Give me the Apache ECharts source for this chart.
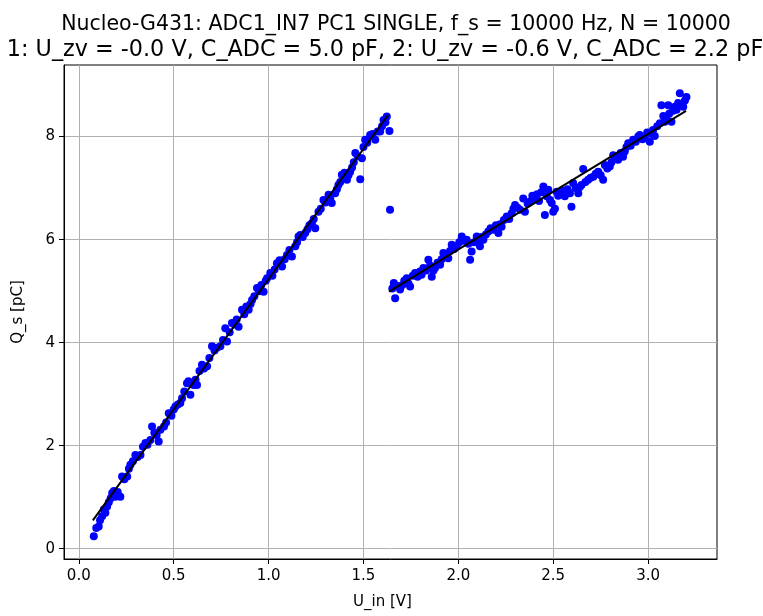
<!DOCTYPE html>
<html>
<head>
<meta charset="utf-8">
<script src="https://cdn.jsdelivr.net/npm/echarts@6/dist/echarts.min.js"></script>
<style>
  html, body { margin: 0; padding: 0; background: #fff; }
  #chart { width: 763px; height: 616px; }
</style>
</head>
<body>
<div id="chart"></div>
<script>
// measured points, range 1 (C_ADC = 5.0 pF)
const uIn1 = [
  0.079, 0.092, 0.105, 0.112, 0.123, 0.132, 0.140, 0.149, 0.158, 0.168,
  0.176, 0.185, 0.193, 0.205, 0.219, 0.228, 0.240, 0.255, 0.264, 0.272,
  0.285, 0.298, 0.310, 0.325, 0.338, 0.351, 0.362, 0.377, 0.386, 0.398,
  0.410, 0.421, 0.430, 0.449, 0.460, 0.474, 0.488, 0.500, 0.509, 0.522,
  0.535, 0.544, 0.556, 0.570, 0.578, 0.588, 0.605, 0.615, 0.623, 0.636,
  0.649, 0.660, 0.676, 0.688, 0.702, 0.715, 0.728, 0.746, 0.760, 0.772,
  0.781, 0.795, 0.807, 0.820, 0.832, 0.842, 0.860, 0.872, 0.883, 0.895,
  0.905, 0.913, 0.925, 0.939, 0.950, 0.962, 0.974, 0.985, 0.992, 1.009,
  1.020, 1.032, 1.044, 1.058, 1.071, 1.085, 1.097, 1.110, 1.123, 1.141,
  1.150, 1.158, 1.167, 1.180, 1.193, 1.205, 1.215, 1.228, 1.238, 1.246,
  1.263, 1.275, 1.289, 1.300, 1.316, 1.325, 1.333, 1.351, 1.360, 1.368,
  1.378, 1.386, 1.400, 1.413, 1.421, 1.430, 1.440, 1.449, 1.457, 1.470,
  1.483, 1.492, 1.500, 1.509, 1.520, 1.535, 1.548, 1.562, 1.575, 1.588,
  1.598, 1.606, 1.616, 1.623, 1.637
]
const qS1 = [
  0.24, 0.40, 0.43, 0.55, 0.63, 0.76, 0.70, 0.82, 0.90, 0.98,
  1.08, 1.12, 1.01, 1.10, 1.01, 1.40, 1.35, 1.40, 1.55, 1.63,
  1.70, 1.82, 1.78, 1.82, 1.98, 2.05, 2.02, 2.11, 2.37, 2.25,
  2.20, 2.08, 2.31, 2.37, 2.45, 2.63, 2.58, 2.70, 2.76, 2.80,
  2.83, 2.92, 3.05, 3.21, 3.25, 2.99, 3.18, 3.28, 3.18, 3.45,
  3.57, 3.50, 3.54, 3.70, 3.93, 3.85, 3.90, 3.93, 4.05, 4.28,
  4.02, 4.20, 4.38, 4.35, 4.45, 4.31, 4.64, 4.55, 4.70, 4.64,
  4.75, 4.83, 4.90, 5.06, 5.00, 5.12, 4.99, 5.20, 5.25, 5.35,
  5.30, 5.42, 5.54, 5.60, 5.48, 5.62, 5.70, 5.80, 5.67, 5.87,
  5.95, 6.06, 6.09, 6.05, 6.13, 6.20, 6.28, 6.32, 6.40, 6.22,
  6.54, 6.60, 6.77, 6.72, 6.87, 6.80, 6.71, 6.90, 6.98, 7.06,
  7.12, 7.26, 7.30, 7.16, 7.25, 7.32, 7.40, 7.50, 7.68, 7.62,
  7.17, 7.58, 7.80, 7.94, 7.88, 8.03, 8.05, 7.94, 8.10, 8.10,
  8.20, 8.32, 8.28, 8.39, 8.11
]

// measured points, range 2 (C_ADC = 2.2 pF)
const uIn2 = [
  1.640, 1.652, 1.660, 1.667, 1.680, 1.693, 1.705, 1.715, 1.728, 1.737,
  1.746, 1.760, 1.772, 1.785, 1.798, 1.806, 1.816, 1.830, 1.842, 1.851,
  1.860, 1.869, 1.877, 1.890, 1.904, 1.912, 1.921, 1.935, 1.947, 1.956,
  1.965, 1.978, 1.991, 2.005, 2.018, 2.030, 2.044, 2.053, 2.062, 2.070,
  2.083, 2.097, 2.105, 2.114, 2.123, 2.132, 2.145, 2.158, 2.170, 2.185,
  2.198, 2.211, 2.220, 2.228, 2.240, 2.255, 2.268, 2.281, 2.290, 2.299,
  2.312, 2.325, 2.342, 2.351, 2.365, 2.378, 2.390, 2.404, 2.415, 2.425,
  2.437, 2.448, 2.456, 2.466, 2.474, 2.483, 2.492, 2.500, 2.509, 2.518,
  2.526, 2.535, 2.548, 2.561, 2.575, 2.588, 2.596, 2.605, 2.618, 2.632,
  2.640, 2.649, 2.658, 2.670, 2.684, 2.697, 2.711, 2.724, 2.737, 2.750,
  2.763, 2.772, 2.785, 2.798, 2.807, 2.816, 2.830, 2.842, 2.855, 2.868,
  2.877, 2.886, 2.895, 2.908, 2.921, 2.935, 2.948, 2.956, 2.970, 2.983,
  2.995, 3.009, 3.018, 3.026, 3.035, 3.048, 3.062, 3.070, 3.080, 3.088,
  3.097, 3.106, 3.112, 3.123, 3.132, 3.141, 3.150, 3.158, 3.167, 3.176,
  3.185, 3.194, 3.202
]
const qS2 = [
  6.58, 5.05, 5.16, 4.86, 5.10, 5.03, 5.12, 5.20, 5.25, 5.15,
  5.09, 5.30, 5.35, 5.28, 5.38, 5.32, 5.45, 5.40, 5.61, 5.50,
  5.28, 5.40, 5.45, 5.55, 5.51, 5.62, 5.74, 5.70, 5.64, 5.78,
  5.90, 5.82, 5.87, 5.95, 6.06, 5.98, 6.00, 5.92, 5.61, 5.77,
  5.95, 6.06, 6.00, 5.87, 6.05, 6.00, 6.10, 6.16, 6.22, 6.19,
  6.28, 6.13, 6.30, 6.25, 6.38, 6.45, 6.40, 6.51, 6.60, 6.67,
  6.62, 6.58, 6.80, 6.54, 6.70, 6.74, 6.85, 6.80, 6.88, 6.75,
  6.92, 7.03, 6.48, 6.84, 6.97, 6.77, 6.71, 6.54, 6.60, 6.93,
  6.85, 6.93, 6.95, 6.84, 6.98, 6.90, 6.64, 7.10, 7.00, 6.90,
  7.02, 7.06, 7.37, 7.12, 7.16, 7.20, 7.22, 7.28, 7.32, 7.25,
  7.16, 7.45, 7.38, 7.42, 7.50, 7.64, 7.58, 7.55, 7.68, 7.61,
  7.71, 7.80, 7.87, 7.82, 7.94, 7.90, 8.00, 8.03, 7.95, 7.97,
  8.08, 7.90, 8.05, 8.13, 8.01, 8.20, 8.26, 8.61, 8.40, 8.29,
  8.35, 8.61, 8.45, 8.29, 8.50, 8.58, 8.52, 8.65, 8.84, 8.62,
  8.58, 8.70, 8.77
]

// fitted lines (end points)
const fit1U = [0.074, 1.630]
const fit1Q = [0.55, 8.42]
const fit2U = [1.635, 3.200]
const fit2Q = [4.99, 8.50]

const xTicks = [0, 0.5, 1, 1.5, 2, 2.5, 3]
const yTicks = [0, 2, 4, 6, 8]

const titleLine1 = 'Nucleo-G431: ADC1_IN7 PC1 SINGLE, f_s = 10000 Hz, N = 10000'
const titleLine2 = '1: U_zv = -0.0 V, C_ADC = 5.0 pF, 2: U_zv = -0.6 V, C_ADC = 2.2 pF'

const zip = (xs, ys) => xs.map((x, i) => [x, ys[i]])

const chart = echarts.init(document.getElementById('chart'))

const FONT = 'DejaVu Sans'
const gridColor = '#b0b0b0'

chart.setOption({
    animation: false,
    textStyle: { fontFamily: FONT },
    title: [
        {
            text: titleLine1,
            left: 391,
            top: 9,
            textAlign: 'center',
            textStyle: { fontFamily: FONT, fontSize: 20.5, fontWeight: 'normal', color: '#000' },
        },
        {
            text: titleLine2,
            left: 380,
            top: 34,
            textAlign: 'center',
            textStyle: { fontFamily: FONT, fontSize: 22.3, fontWeight: 'normal', color: '#000' },
        },
    ],
    grid: {
        left: 64,
        right: 46,
        top: 65,
        bottom: 57,
        show: true,
        borderColor: '#000',
        borderWidth: 1,
        backgroundColor: 'transparent',
    },
    xAxis: {
        type: 'value',
        min: -0.078,
        max: 3.363,
        name: 'U_in [V]',
        nameLocation: 'middle',
        nameGap: 36,
        nameTextStyle: { color: '#000', fontSize: 15, fontFamily: FONT, padding: [0, 16, 0, 0] },
        axisLine: { show: true, onZero: false, lineStyle: { color: '#000', width: 1 } },
        axisTick: {
            show: true,
            length: 5,
            lineStyle: { color: '#000' },
            customValues: xTicks,
        },
        axisLabel: {
            color: '#000',
            fontSize: 15,
            margin: 10,
            customValues: xTicks,
            formatter: v => v.toFixed(1),
        },
        splitLine: { show: true, lineStyle: { color: gridColor, width: 1 } },
    },
    yAxis: {
        type: 'value',
        min: -0.2,
        max: 9.39,
        name: 'Q_s [pC]',
        nameLocation: 'middle',
        nameGap: 38,
        nameTextStyle: { color: '#000', fontSize: 15, fontFamily: FONT },
        axisLine: { show: true, onZero: false, lineStyle: { color: '#000', width: 1 } },
        axisTick: {
            show: true,
            length: 5,
            lineStyle: { color: '#000' },
            customValues: yTicks,
        },
        axisLabel: {
            color: '#000',
            fontSize: 15,
            margin: 9,
            customValues: yTicks,
            formatter: v => String(v),
        },
        splitLine: { show: true, lineStyle: { color: gridColor, width: 1 } },
    },
    series: [
        {
            name: 'range 1',
            type: 'scatter',
            symbolSize: 8,
            itemStyle: { color: '#0000ff', opacity: 1 },
            data: zip(uIn1, qS1),
            z: 2,
        },
        {
            name: 'range 2',
            type: 'scatter',
            symbolSize: 8,
            itemStyle: { color: '#0000ff', opacity: 1 },
            data: zip(uIn2, qS2),
            z: 2,
        },
        {
            name: 'fit 1',
            type: 'line',
            showSymbol: false,
            lineStyle: { color: '#000', width: 2 },
            data: zip(fit1U, fit1Q),
            z: 3,
        },
        {
            name: 'fit 2',
            type: 'line',
            showSymbol: false,
            lineStyle: { color: '#000', width: 2 },
            data: zip(fit2U, fit2Q),
            z: 3,
        },
    ],
})
</script>
</body>
</html>
